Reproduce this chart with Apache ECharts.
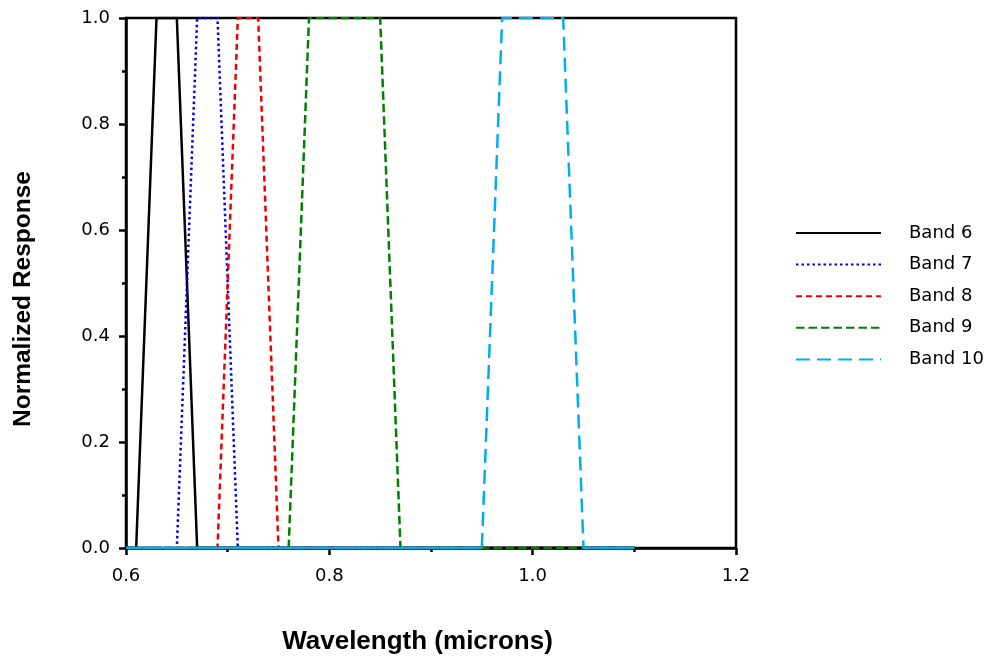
<!DOCTYPE html>
<html>
<head>
<meta charset="utf-8">
<script src="https://cdn.jsdelivr.net/npm/echarts@6/dist/echarts.min.js"></script>
<style>html,body{margin:0;padding:0;background:#fff}#c{width:990px;height:661px}</style>
</head>
<body>
<div id="c"></div>
<script>
const seriesNames = ['Band 6', 'Band 7', 'Band 8', 'Band 9', 'Band 10'];
const band6X = [0.60, 0.61, 0.63, 0.65, 0.67, 1.10];
const band6Y = [0, 0, 1, 1, 0, 0];
const band7X = [0.60, 0.65, 0.67, 0.69, 0.71, 1.10];
const band7Y = [0, 0, 1, 1, 0, 0];
const band8X = [0.60, 0.69, 0.71, 0.73, 0.75, 1.10];
const band8Y = [0, 0, 1, 1, 0, 0];
const band9X = [0.60, 0.76, 0.78, 0.85, 0.87, 1.10];
const band9Y = [0, 0, 1, 1, 0, 0];
const band10X = [0.60, 0.95, 0.97, 1.03, 1.05, 1.10];
const band10Y = [0, 0, 1, 1, 0, 0];
const xTicks = [0.6, 0.8, 1.0, 1.2];
const yTicks = [0.0, 0.2, 0.4, 0.6, 0.8, 1.0];

const xs = [band6X, band7X, band8X, band9X, band10X];
const ys = [band6Y, band7Y, band8Y, band9Y, band10Y];
const colors = ['#000000', '#0000ee', '#ee0000', '#008000', '#00aeef'];
const dashes = ['solid', [2.5, 3], [6, 4], [8.5, 4], [14, 7]];

// zero-level pieces of a band, drawn solid (as the original baseline looks)
function baselinePieces(X, Y) {
  const out = [];
  for (let j = 0; j < X.length; j++) {
    if (Y[j] === 0) {
      if (j > 0 && Y[j - 1] !== 0 && out.length) out.push('-');
      out.push([X[j], Y[j]]);
    }
  }
  return out;
}

const chart = echarts.init(document.getElementById('c'));
const tickFont = { fontFamily: 'DejaVu Sans', fontSize: 18, color: '#000' };
const series = seriesNames.map((n, i) => ({
  name: n, type: 'line', symbol: 'none', z: 2 + i * 2,
  data: xs[i].map((x, j) => [x, ys[i][j]]),
  lineStyle: { color: colors[i], width: 2.5, type: dashes[i] },
  itemStyle: { color: colors[i] }
}));
series.push({
  name: 'Band 6 baseline', type: 'line', symbol: 'none', z: 7, connectNulls: false,
  data: baselinePieces(band6X, band6Y),
  lineStyle: { color: colors[0], width: 2.5, type: 'solid' },
  itemStyle: { color: colors[0] }
});
series.push({
  name: 'Band 10 baseline', type: 'line', symbol: 'none', z: 9, connectNulls: false,
  data: baselinePieces(band10X, band10Y),
  lineStyle: { color: colors[4], width: 2.5, type: 'solid' },
  itemStyle: { color: colors[4] }
});

chart.setOption({
  animation: false,
  backgroundColor: '#fff',
  grid: { left: 126, top: 18, right: 254, bottom: 113, show: true, borderColor: '#000', borderWidth: 2.5, backgroundColor: 'transparent' },
  xAxis: {
    type: 'value', min: 0.6, max: 1.2, interval: 0.2,
    name: 'Wavelength (microns)', nameLocation: 'middle', nameGap: 81,
    nameTextStyle: { fontFamily: 'Liberation Sans', fontWeight: 'bold', fontSize: 26, color: '#000', padding: [0, 27, 0, 0] },
    axisLine: { lineStyle: { color: '#000', width: 2.5 } },
    axisTick: { inside: false, length: 7, lineStyle: { color: '#000', width: 2.5 } },
    minorTick: { show: true, splitNumber: 2, length: 4, lineStyle: { color: '#000', width: 2.5 } },
    splitLine: { show: false },
    axisLabel: Object.assign({ margin: 19, formatter: v => xTicks.includes(+v.toFixed(1)) ? v.toFixed(1) : '' }, tickFont)
  },
  yAxis: {
    type: 'value', min: 0, max: 1, interval: 0.2,
    name: 'Normalized Response', nameLocation: 'middle', nameGap: 90, nameRotate: 90,
    nameTextStyle: { fontFamily: 'Liberation Sans', fontWeight: 'bold', fontSize: 24.5, color: '#000', padding: [0, 32, 0, 0] },
    axisLine: { lineStyle: { color: '#000', width: 2.5 } },
    axisTick: { inside: false, length: 7, lineStyle: { color: '#000', width: 2.5 } },
    minorTick: { show: true, splitNumber: 2, length: 4, lineStyle: { color: '#000', width: 2.5 } },
    splitLine: { show: false },
    axisLabel: Object.assign({ margin: 16, formatter: v => yTicks.includes(+v.toFixed(1)) ? v.toFixed(1) : '' }, tickFont)
  },
  legend: {
    orient: 'vertical', left: 795, top: 224, padding: 0,
    itemWidth: 85, itemHeight: 18, itemGap: 13.6,
    data: seriesNames,
    itemStyle: { opacity: 0 },
    textStyle: { fontFamily: 'DejaVu Sans', fontSize: 18, lineHeight: 18, color: '#000', padding: [0, 0, 0, 23] }
  },
  series: series
});
</script>
</body>
</html>
